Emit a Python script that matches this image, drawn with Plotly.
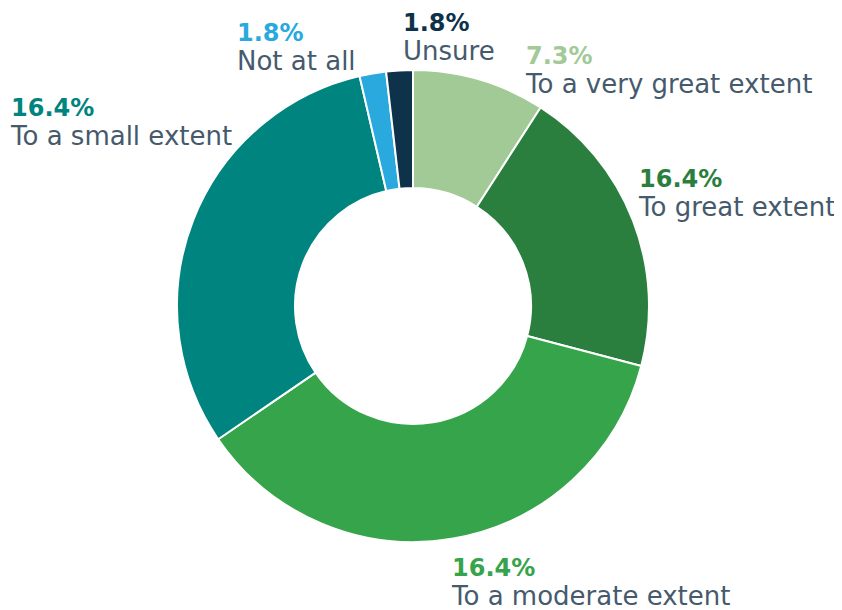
import plotly.graph_objects as go

categories = ["To a very great extent", "To great extent", "To a moderate extent",
              "To a small extent", "Not at all", "Unsure"]
slice_values = [5, 11, 20, 17, 1, 1]
shown_pct = ["7.3%", "16.4%", "16.4%", "16.4%", "1.8%", "1.8%"]
colors = ["#a2ca97", "#2a7f3f", "#36a44a", "#00847f", "#2aa9df", "#0e3249"]

# label block positions in reference pixels: left x, block centre y
label_pos = [(523, 71), (636, 193), (449, 582), (8, 122), (235, 47), (401, 37)]

OFF = 8  # page offset of the plot inside the window
W, H = 842 - OFF, 610 - OFF
cx, cy, r = 413 - OFF, 306 - OFF, 236

fig = go.Figure(go.Pie(
    labels=categories, values=slice_values, sort=False, direction="clockwise",
    rotation=0, hole=0.5, textinfo="none", hoverinfo="label+value",
    marker=dict(colors=colors, line=dict(color="white", width=2)),
    domain=dict(x=[(cx - r) / W, (cx + r) / W], y=[1 - (cy + r) / H, 1 - (cy - r) / H]),
    showlegend=False,
))

text_color = "#465a6d"
annotations = []
for cat, pct, col, (lx, by) in zip(categories, shown_pct, colors, label_pos):
    txt = ("<span style='font-size:24px;color:" + col + "'><b>" + pct + "</b></span><br>"
           "<span style='font-size:26px'>" + cat + "</span>")
    annotations.append(dict(x=(lx - OFF) / W, y=1 - (by - OFF) / H, xref="paper", yref="paper",
                            xanchor="left", yanchor="middle", align="left", showarrow=False,
                            text=txt,
                            font=dict(family="DejaVu Sans", size=22, color=text_color)))

fig.update_layout(width=W, height=H, margin=dict(l=0, r=0, t=0, b=0),
                  paper_bgcolor="white", plot_bgcolor="white",
                  annotations=annotations)
fig.write_html("out.html")
